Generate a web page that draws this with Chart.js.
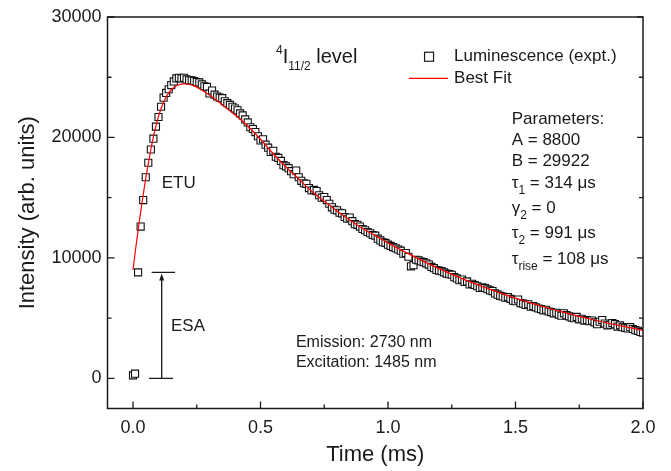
<!DOCTYPE html>
<html>
<head>
<meta charset="utf-8">
<script src="https://cdn.jsdelivr.net/npm/chart.js@4.4.1/dist/chart.umd.min.js"></script>
<style>
  html, body { margin: 0; padding: 0; background: #ffffff; }
  #wrap { width: 671px; height: 471px; }
</style>
</head>
<body>
<div id="wrap"><canvas id="c" width="671" height="471"></canvas></div>
<script>
// ---------------- data ----------------
const exptTime = [
  0.000, 0.008, 0.02, 0.03, 0.04, 0.05, 0.06, 0.07, 0.08, 0.09,
  0.10, 0.11, 0.12, 0.13, 0.14, 0.15, 0.16, 0.17, 0.18, 0.19,
  0.20, 0.21, 0.22, 0.23, 0.24, 0.25, 0.26, 0.27, 0.28, 0.29,
  0.30, 0.31, 0.32, 0.33, 0.34, 0.35, 0.36, 0.37, 0.38, 0.39,
  0.40, 0.41, 0.42, 0.43, 0.44, 0.45, 0.46, 0.47, 0.48, 0.49,
  0.50, 0.51, 0.52, 0.53, 0.54, 0.55, 0.56, 0.57, 0.58, 0.59,
  0.60, 0.61, 0.62, 0.63, 0.64, 0.65, 0.66, 0.67, 0.68, 0.69,
  0.70, 0.71, 0.72, 0.73, 0.74, 0.75, 0.76, 0.77, 0.78, 0.79,
  0.80, 0.81, 0.82, 0.83, 0.84, 0.85, 0.86, 0.87, 0.88, 0.89,
  0.90, 0.91, 0.92, 0.93, 0.94, 0.95, 0.96, 0.97, 0.98, 0.99,
  1.00, 1.01, 1.02, 1.03, 1.04, 1.05, 1.06, 1.07, 1.08, 1.09,
  1.10, 1.11, 1.12, 1.13, 1.14, 1.15, 1.16, 1.17, 1.18, 1.19,
  1.20, 1.21, 1.22, 1.23, 1.24, 1.25, 1.26, 1.27, 1.28, 1.29,
  1.30, 1.31, 1.32, 1.33, 1.34, 1.35, 1.36, 1.37, 1.38, 1.39,
  1.40, 1.41, 1.42, 1.43, 1.44, 1.45, 1.46, 1.47, 1.48, 1.49,
  1.50, 1.51, 1.52, 1.53, 1.54, 1.55, 1.56, 1.57, 1.58, 1.59,
  1.60, 1.61, 1.62, 1.63, 1.64, 1.65, 1.66, 1.67, 1.68, 1.69,
  1.70, 1.71, 1.72, 1.73, 1.74, 1.75, 1.76, 1.77, 1.78, 1.79,
  1.80, 1.81, 1.82, 1.83, 1.84, 1.85, 1.86, 1.87, 1.88, 1.89,
  1.90, 1.91, 1.92, 1.93, 1.94, 1.95, 1.96, 1.97, 1.98, 1.99,
  2.00
];
const exptIntensity = [
  250, 390, 8800, 12600, 14800, 16700, 17900, 19000, 19900, 20900,
  21700, 22550, 23300, 23700, 24000, 24350, 24650, 24900, 24950, 24900,
  24950, 24820, 24750, 24740, 24690, 24600, 24570, 24400, 24250, 24200,
  23650, 23900, 23550, 23400, 23300, 23260, 23000, 22850, 22700, 22550,
  22400, 22250, 22000, 21830, 21500, 21250, 20850, 20700, 20450, 20100,
  19750, 19850, 19400, 19150, 18800, 18900, 18400, 18300, 18050, 17700,
  17600, 17450, 17200, 16950, 17250, 16700, 16400, 16200, 16150, 15800,
  15600, 15650, 15550, 15200, 15000, 15050, 14800, 14500, 14200, 14000,
  13950, 13750, 13700, 13400, 13250, 13350, 13050, 12800, 12750, 12600,
  12400, 12300, 12150, 12050, 11900, 11850, 11600, 11450, 11300, 11250,
  11100, 11000, 10900, 10800, 10700, 10600, 10350, 10400, 10100, 9300,
  9400, 9850, 9800, 9700, 9650, 9550, 9450, 9250, 9150, 9000,
  8950, 8900, 8800, 8700, 8650, 8600, 8400, 8300, 8150, 8200,
  8000, 8050, 7800, 7850, 7750, 7650, 7500, 7550, 7500, 7400,
  7300, 7250, 7050, 6950, 6850, 6800, 6700, 6750, 6600, 6450,
  6400, 6550, 6250, 6200, 6100, 6150, 5950, 6000, 5900, 5800,
  5750, 5650, 5700, 5550, 5500, 5400, 5450, 5300, 5200, 5400,
  5250, 5150, 5050, 5000, 5100, 4900, 4950, 4800, 4850, 4750,
  4800, 4650, 4500, 4700, 4850, 4550, 4400, 4450, 4600, 4500,
  4300, 4400, 4250, 4200, 4150, 4250, 4100, 4000, 3950, 3850,
  3800
];
const fitTime = [
  0.000, 0.010, 0.020, 0.030, 0.040, 0.050, 0.060, 0.070, 0.080, 0.090,
  0.100, 0.120, 0.140, 0.160, 0.180, 0.200, 0.220, 0.240, 0.260, 0.280,
  0.300, 0.325, 0.350, 0.375, 0.400, 0.450, 0.500, 0.550, 0.600, 0.650,
  0.700, 0.750, 0.800, 0.850, 0.900, 0.950, 1.000, 1.100, 1.200, 1.300,
  1.400, 1.500, 1.600, 1.700, 1.800, 1.900, 2.000
];
const fitIntensity = [
  9000, 10700, 12300, 13800, 15250, 16600, 17850, 19000, 20050, 20950,
  21750, 22950, 23700, 24150, 24380, 24450, 24420, 24280, 24050, 23800,
  23520, 23130, 22720, 22300, 21880, 20950, 19850, 18650, 17550, 16550,
  15550, 14700, 13900, 13150, 12450, 11850, 11250, 10130, 9110, 8200,
  7390, 6660, 6010, 5420, 4890, 4420, 3980
];
const xTicks = [0.0, 0.5, 1.0, 1.5, 2.0];
const xTickLabels = ["0.0", "0.5", "1.0", "1.5", "2.0"];
const xMinorTicks = [0.25, 0.75, 1.25, 1.75];
const yTicks = [0, 10000, 20000, 30000];
const yTickLabels = ["0", "10000", "20000", "30000"];
const yMinorTicks = [5000, 15000, 25000];
const seriesNames = ["Luminescence (expt.)", "Best Fit"];
const paramLines = [
  [["Parameters:", 0]],
  [["A = 8800", 0]],
  [["B = 29922", 0]],
  [["\u03C4", 0], ["1", 1], [" = 314 \u03BCs", 0]],
  [["\u03B3", 0], ["2", 1], [" = 0", 0]],
  [["\u03C4", 0], ["2", 1], [" = 991 \u03BCs", 0]],
  [["\u03C4", 0], ["rise", 1], [" = 108 \u03BCs", 0]]
];

// ---------------- styling / layout ----------------
const FONT = '"Liberation Sans", Arial, Helvetica, sans-serif';
const INK = '#1a1a1a';
const AX = { xMin: -0.1, xMax: 2.0, yMin: -2500, yMax: 30000 };

function font(sz) { return sz + 'px ' + FONT; }

function drawRich(ctx, x, y, segs, main, sub, subDy, supDy) {
  let cx = x;
  for (const [txt, kind] of segs) {
    let sz = main, dy = 0;
    if (kind === 1) { sz = sub; dy = subDy; }
    if (kind === 2) { sz = sub; dy = supDy; }
    ctx.font = font(sz);
    ctx.fillText(txt, cx, y + dy);
    cx += ctx.measureText(txt).width;
  }
}

const decor = {
  id: 'decor',
  afterDraw(chart) {
    const ctx = chart.ctx;
    const a = chart.chartArea;
    const xs = chart.scales.x, ys = chart.scales.y;
    const X = v => xs.getPixelForValue(v);
    const Y = v => ys.getPixelForValue(v);
    ctx.save();
    // frame
    ctx.strokeStyle = INK;
    ctx.lineWidth = 1.5;
    ctx.strokeRect(a.left, a.top, a.right - a.left, a.bottom - a.top);
    // ticks (inward)
    ctx.lineWidth = 1.3;
    ctx.beginPath();
    xTicks.forEach(t => { const p = X(t); ctx.moveTo(p, a.bottom); ctx.lineTo(p, a.bottom - 7); });
    xMinorTicks.forEach(t => { const p = X(t); ctx.moveTo(p, a.bottom); ctx.lineTo(p, a.bottom - 4); });
    yTicks.forEach(t => { const p = Y(t); ctx.moveTo(a.left, p); ctx.lineTo(a.left + 7, p);
                          ctx.moveTo(a.right, p); ctx.lineTo(a.right - 6, p); });
    yMinorTicks.forEach(t => { const p = Y(t); ctx.moveTo(a.left, p); ctx.lineTo(a.left + 4, p);
                               ctx.moveTo(a.right, p); ctx.lineTo(a.right - 4, p); });
    ctx.stroke();

    ctx.fillStyle = INK;
    ctx.textBaseline = 'alphabetic';
    ctx.textAlign = 'left';

    // level title
    drawRich(ctx, X(0.561), Y(26140),
      [["4", 2], ["I", 0], ["11/2", 1], [" level", 0]], 20, 12, 7, -9);

    // legend
    const lx = X(1.161), ly = Y(26700);
    ctx.fillStyle = '#ffffff';
    ctx.strokeStyle = INK;
    ctx.lineWidth = 1.2;
    ctx.fillRect(lx - 4.5, ly - 4.5, 9, 9);
    ctx.strokeRect(lx - 4.5, ly - 4.5, 9, 9);
    ctx.strokeStyle = '#ff0000';
    ctx.lineWidth = 1.3;
    ctx.beginPath();
    ctx.moveTo(X(1.082), Y(24900)); ctx.lineTo(X(1.235), Y(24900));
    ctx.stroke();
    ctx.fillStyle = INK;
    ctx.font = font(17);
    ctx.textBaseline = 'middle';
    ctx.fillText(seriesNames[0], X(1.259), Y(26700));
    ctx.fillText(seriesNames[1], X(1.259), Y(24900));
    ctx.textBaseline = 'alphabetic';

    // parameters
    const px = X(1.485);
    const baseV = [21100, 19350, 17600, 15780, 13700, 11630, 9470];
    paramLines.forEach((segs, i) => drawRich(ctx, px, Y(baseV[i]), segs, 17, 12, 6, -8));

    // ETU / ESA labels
    ctx.textBaseline = 'middle';
    ctx.font = font(17);
    ctx.fillText('ETU', X(0.1125), Y(16160));
    ctx.fillText('ESA', X(0.149), Y(4315));
    // Emission / Excitation
    ctx.font = font(16);
    ctx.fillText('Emission: 2730 nm', X(0.639), Y(2990));
    ctx.fillText('Excitation: 1485 nm', X(0.639), Y(1330));

    // ESA arrow with bars
    const ax = X(0.1125);
    ctx.strokeStyle = INK;
    ctx.lineWidth = 1.3;
    ctx.beginPath();
    ctx.moveTo(X(0.073), Y(8800)); ctx.lineTo(X(0.165), Y(8800));
    ctx.moveTo(X(0.063), Y(0)); ctx.lineTo(X(0.157), Y(0));
    ctx.moveTo(ax, Y(0)); ctx.lineTo(ax, Y(8800) + 6);
    ctx.stroke();
    ctx.beginPath();
    ctx.moveTo(ax, Y(8800) + 1);
    ctx.lineTo(ax - 2.5, Y(8800) + 8);
    ctx.lineTo(ax + 2.5, Y(8800) + 8);
    ctx.closePath();
    ctx.fill();
    ctx.restore();
  }
};

const exptPoints = exptTime.map((t, i) => ({ x: t, y: exptIntensity[i] }));
const fitPoints = fitTime.map((t, i) => ({ x: t, y: fitIntensity[i] }));

new Chart(document.getElementById('c'), {
  type: 'scatter',
  data: {
    datasets: [
      {
        label: seriesNames[1],
        type: 'line',
        data: fitPoints,
        borderColor: '#ff0000',
        borderWidth: 1.2,
        pointRadius: 0,
        fill: false,
        cubicInterpolationMode: 'monotone',
        order: 0
      },
      {
        label: seriesNames[0],
        data: exptPoints,
        pointStyle: 'rect',
        pointRadius: 5,
        pointBorderWidth: 1.1,
        pointBorderColor: '#111111',
        pointBackgroundColor: '#ffffff',
        order: 1
      }
    ]
  },
  options: {
    responsive: false,
    animation: false,
    devicePixelRatio: 1,
    layout: { padding: { left: 0, right: 28, top: 17, bottom: 0 } },
    plugins: { legend: { display: false }, tooltip: { enabled: false } },
    scales: {
      x: {
        type: 'linear',
        min: AX.xMin, max: AX.xMax,
        afterBuildTicks: s => { s.ticks = xTicks.map(v => ({ value: v })); },
        afterFit: s => { s.height = 62.5; },
        grid: { display: false, drawTicks: false },
        border: { display: false },
        ticks: {
          padding: 9,
          color: INK,
          font: { family: FONT, size: 18 },
          maxRotation: 0,
          callback: (v) => xTickLabels[xTicks.indexOf(v)]
        },
        title: {
          display: true, text: 'Time (ms)', color: INK,
          font: { family: FONT, size: 22 },
          padding: { top: 0, bottom: 3 }
        }
      },
      y: {
        type: 'linear',
        min: AX.yMin, max: AX.yMax,
        afterBuildTicks: s => { s.ticks = yTicks.map(v => ({ value: v })); },
        afterFit: s => { s.width = 107.5; },
        grid: { display: false, drawTicks: false },
        border: { display: false },
        ticks: {
          padding: 6,
          color: INK,
          font: { family: FONT, size: 18 },
          callback: (v) => yTickLabels[yTicks.indexOf(v)]
        },
        title: {
          display: true, text: 'Intensity (arb. units)', color: INK,
          font: { family: FONT, size: 22 },
          padding: { top: 15, bottom: 15 }
        }
      }
    }
  },
  plugins: [decor]
});
</script>
</body>
</html>
